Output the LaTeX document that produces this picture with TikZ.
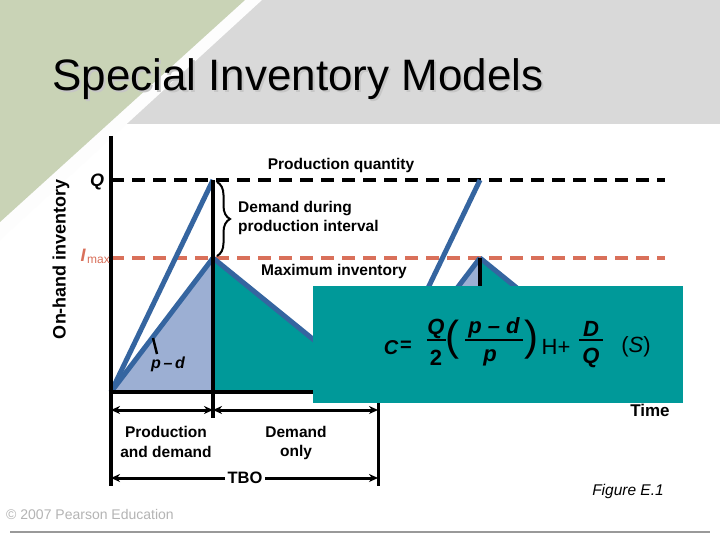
\documentclass[tikz,border=0pt]{standalone}
\usepackage{fontspec}
\setmainfont{Liberation Sans}
\usetikzlibrary{arrows.meta,decorations.pathreplacing}
\definecolor{bgray}{HTML}{D9D9D9}
\definecolor{bgreen}{HTML}{C9D3B6}
\definecolor{bline}{HTML}{3565A0}
\definecolor{lblue}{HTML}{9CAFD3}
\definecolor{teal2}{HTML}{009999}
\definecolor{salmon}{HTML}{D9705A}
\definecolor{cgray}{HTML}{B4B4B4}
\newcommand{\fs}[1]{\fontsize{#1}{#1}\selectfont}
\begin{document}
\begin{tikzpicture}[x=1pt,y=-1pt,
  axisline/.style={line width=4pt,black},
  blueline/.style={line width=5pt,bline},
  qdash/.style={line width=4pt,black,dash pattern=on 13pt off 8pt},
  idash/.style={line width=4pt,salmon,dash pattern=on 13pt off 8pt},
  dimline/.style={line width=3pt,black,{Stealth[length=9pt,width=8pt]}-{Stealth[length=9pt,width=8pt]}},
  ticks/.style={line width=3pt,black},
  lbl/.style={inner sep=0pt,font=\fs{15.5}\bfseries,align=center},
  eq/.style={inner sep=0pt,font=\fs{22}\bfseries\itshape},
  fracbar/.style={line width=2.2pt,black}]
\useasboundingbox (0,0) rectangle (720,540);
% background
\fill[white] (0,0) rectangle (720,540);
\fill[bgray] (0,0) rectangle (720,124);
\fill[white!96!bgray] (0,0) -- (262,0) -- (0,240) -- cycle;
\fill[bgreen] (0,0) -- (245,0) -- (0,222) -- cycle;
\draw[line width=1.5pt,gray!80] (10,532) -- (710,532);
% title
\node[anchor=base west,inner sep=0pt,text=gray!45,font=\fs{44}] (titleshadow) at (54,93) {Special Inventory Models};
\node[anchor=base west,inner sep=0pt,font=\fs{44}] (title) at (52,91) {Special Inventory Models};
% chart points
\coordinate (O) at (111,392);
\coordinate (P1) at (213,180);
\coordinate (M1) at (213,258);
\coordinate (B1) at (213,392);
\coordinate (O2) at (378,392);
\coordinate (P2) at (480,180);
\coordinate (M2) at (480,258);
\coordinate (B2) at (480,392);
\coordinate (E2) at (645,392);
% fills
\fill[lblue] (O) -- (M1) -- (B1) -- cycle;
\fill[teal2] (M1) -- (O2) -- (B1) -- cycle;
\fill[lblue] (O2) -- (M2) -- (B2) -- cycle;
\fill[teal2] (M2) -- (E2) -- (B2) -- cycle;
% dashed levels
\coordinate (qs) at (111,180);
\coordinate (qe) at (665,180);
\coordinate (is) at (111,258);
\coordinate (ie) at (665,258);
\draw[qdash] (qs) -- (qe);
\draw[idash] (is) -- (ie);
% blue lines
\draw[blueline] (O) -- (P1);
\draw[blueline] (O) -- (M1);
\draw[blueline] (M1) -- (O2);
\draw[blueline] (O2) -- (P2);
\draw[blueline] (O2) -- (M2);
\draw[blueline] (M2) -- (E2);
% axes and verticals
\coordinate (ytop) at (111,136);
\coordinate (ybot) at (111,486);
\coordinate (xend) at (660,392);
\draw[axisline] (ytop) -- (ybot);
\draw[axisline] (109,392) -- (xend);
\coordinate (v1b) at (213,418);
\draw[axisline] (P1) -- (v1b);
\draw[line width=4pt] (M2) -- (B2);
\coordinate (v3t) at (378,392);
\coordinate (v3b) at (378,486);
\draw[ticks] (v3t) -- (v3b);
% brace
\coordinate (bt) at (217,182);
\coordinate (bb) at (217,256);
\draw[line width=2pt,decorate,decoration={brace,amplitude=13pt}] (bt) -- (bb);
% labels
\node[lbl] (prodq) at (341,165) {Production quantity};
\node[lbl,anchor=west,align=left] (demdur) at (238,218) {Demand during\\[4pt]production interval};
\node[lbl] (maxinv) at (334,271) {Maximum inventory};
\node[inner sep=0pt,font=\fs{18}\bfseries\itshape] (qlbl) at (97,182) {Q};
\node[inner sep=0pt,font=\fs{18}\bfseries\itshape,text=salmon] (ilbl) at (83,255) {I};
\node[inner sep=0pt,font=\fs{12},text=salmon,anchor=west] (maxlbl) at (87,260) {max};
\node[inner sep=0pt,font=\fs{18}\bfseries,rotate=90] (ylbl) at (61,259) {On-hand inventory};
\node[inner sep=0pt,font=\fs{16}\bfseries\itshape] (pd) at (168,364) {p\,–\,d};
\coordinate (pt1) at (153,338);
\coordinate (pt2) at (157,354);
\draw[line width=2.5pt] (pt1) -- (pt2);
% teal box
\node[fill=teal2,inner sep=0pt,minimum width=370pt,minimum height=117pt,anchor=north west] (box) at (313,286) {};
% equation
\node[eq,font=\fs{20}\bfseries\itshape] (eC) at (391,348) {C};
\node[eq,font=\fs{20}\bfseries] (eeq) at (406,346) {=};
\node[eq] (eQ1) at (436,329) {Q};
\draw[fracbar] (427,340) -- (446,340);
\node[eq,font=\fs{22}\bfseries] (e2) at (436,358) {2};
\node[inner sep=0pt,font=\fs{42}] (elp) at (452,340) {(};
\node[eq] (epd) at (494,328) {p – d};
\draw[fracbar] (465,340) -- (523,340);
\node[eq] (ep) at (490,358) {p};
\node[inner sep=0pt,font=\fs{42}] (erp) at (531,340) {)};
\node[inner sep=0pt,font=\fs{22}] (eH) at (556,347) {H+};
\node[eq] (eD) at (591,329) {D};
\draw[fracbar] (579,340) -- (603,340);
\node[eq] (eQ2) at (591,358) {Q};
\node[inner sep=0pt,font=\fs{22}] (eS) at (636,347) {(\textit{S})};
% time
\node[inner sep=0pt,font=\fs{17}\bfseries] (time) at (650,410) {Time};
% dimension arrows
\coordinate (a1) at (111,410);
\coordinate (a2) at (213,410);
\coordinate (a3) at (378,410);
\draw[dimline] (a1) -- (a2);
\draw[dimline] (a2) -- (a3);
\coordinate (t1) at (111,478);
\coordinate (t2) at (378,478);
\draw[dimline] (t1) -- (t2);
\node[lbl,fill=white,inner xsep=3pt,inner ysep=1pt,font=\fs{16.5}\bfseries] (tbo) at (245,478) {TBO};
\node[lbl] (pad) at (166,442) {Production\\[4pt]and demand};
\node[lbl] (donly) at (296,443) {Demand\\[4pt]only};
\node[inner sep=0pt,font=\fs{15.5}\itshape] (fig) at (628,491) {Figure E.1};
\node[inner sep=0pt,font=\fs{14},text=cgray] (copy) at (90,514) {© 2007 Pearson Education};
\end{tikzpicture}
\end{document}
